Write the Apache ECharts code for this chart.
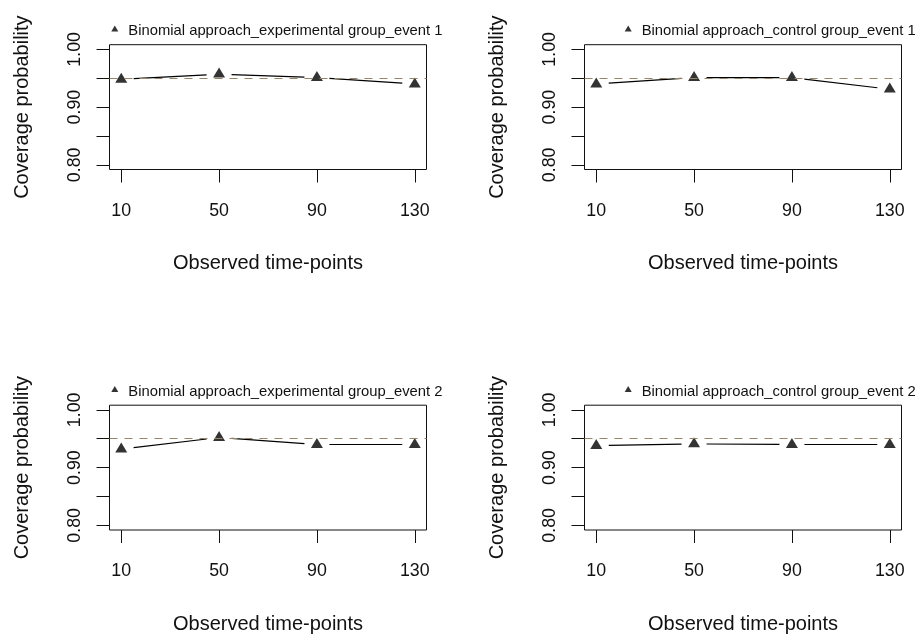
<!DOCTYPE html>
<html>
<head>
<meta charset="utf-8">
<style>
  html, body { margin: 0; padding: 0; background: #fff; }
  #chart { width: 921px; height: 635px; }
</style>
<script src="https://cdn.jsdelivr.net/npm/echarts@6/dist/echarts.min.js"></script>
</head>
<body>
<div id="chart"></div>
<script>
// ---- data ----
const timePoints = [10, 50, 90, 130];
const expEvent1 = [0.948, 0.957, 0.951, 0.940];
const ctlEvent1 = [0.940, 0.951, 0.951, 0.931];
const expEvent2 = [0.932, 0.952, 0.940, 0.940];
const ctlEvent2 = [0.938, 0.941, 0.940, 0.940];
const nominalLevel = 0.95;
const yTickValues = [0.80, 0.85, 0.90, 0.95, 1.00];
const yLabelValues = [0.80, 0.90, 1.00];
const xTickValues = [10, 50, 90, 130];
const seriesNames = [
  'Binomial approach_experimental group_event 1',
  'Binomial approach_control group_event 1',
  'Binomial approach_experimental group_event 2',
  'Binomial approach_control group_event 2'
];
const xTitle = 'Observed time-points';
const yTitle = 'Coverage probability';

// ---- layout ----
const FONT = 'Liberation Sans, Arial, sans-serif';
const INK = '#111';
const layout = [
  { left: 109.5, top: 44.7, legendLeft: 106.3 },
  { left: 584.5, top: 44.7, legendLeft: 619.7 },
  { left: 109.5, top: 405.2, legendLeft: 106.3 },
  { left: 584.5, top: 405.2, legendLeft: 619.7 }
];
const panelW = 317, panelH = 124.8;
const valuesList = [expEvent1, ctlEvent1, expEvent2, ctlEvent2];
const GAP = 12.5;

const option = {
  backgroundColor: '#fff',
  animation: false,
  grid: [], xAxis: [], yAxis: [], series: [], legend: []
};

layout.forEach((p, i) => {
  option.grid.push({
    left: p.left, top: p.top, width: panelW, height: panelH,
    show: true, borderColor: INK, borderWidth: 1, backgroundColor: 'transparent',
    containLabel: false
  });
  option.xAxis.push({
    gridIndex: i, type: 'value', min: 5.2, max: 134.8,
    name: xTitle, nameLocation: 'middle', nameGap: 84,
    nameTextStyle: { fontFamily: FONT, fontSize: 20, color: INK },
    axisLine: { show: false },
    splitLine: { show: false },
    axisTick: { show: true, length: 13, customValues: xTickValues, lineStyle: { color: INK, width: 1 } },
    axisLabel: { customValues: xTickValues, margin: 32.5, fontFamily: FONT, fontSize: 17.8, color: INK }
  });
  option.yAxis.push({
    gridIndex: i, type: 'value', min: 0.792, max: 1.008,
    name: yTitle, nameLocation: 'middle', nameGap: 77,
    nameTextStyle: { fontFamily: FONT, fontSize: 20, color: INK },
    axisLine: { show: false },
    splitLine: { show: false },
    axisTick: { show: true, length: 13, customValues: yTickValues, lineStyle: { color: INK, width: 1 } },
    axisLabel: {
      customValues: yLabelValues, rotate: 90, margin: 25.5,
      fontFamily: FONT, fontSize: 17.8, color: INK,
      formatter: v => Number(v).toFixed(2)
    }
  });
  const vals = valuesList[i];
  const segs = [];
  for (let k = 0; k < timePoints.length - 1; k++) {
    segs.push([timePoints[k], vals[k], timePoints[k + 1], vals[k + 1]]);
  }
  option.series.push({
    type: 'custom', xAxisIndex: i, yAxisIndex: i, z: 2, silent: true,
    data: segs,
    renderItem: (params, api) => {
      const p0 = api.coord([api.value(0), api.value(1)]);
      const p1 = api.coord([api.value(2), api.value(3)]);
      const dx = p1[0] - p0[0], dy = p1[1] - p0[1];
      const len = Math.hypot(dx, dy);
      const ux = dx / len, uy = dy / len;
      return {
        type: 'line',
        shape: { x1: p0[0] + ux * GAP, y1: p0[1] + uy * GAP, x2: p1[0] - ux * GAP, y2: p1[1] - uy * GAP },
        style: { stroke: '#000', lineWidth: 1.2 }
      };
    }
  });
  option.series.push({
    type: 'scatter', name: seriesNames[i], xAxisIndex: i, yAxisIndex: i, z: 3,
    data: timePoints.map((t, k) => [t, vals[k]]),
    symbol: 'triangle', symbolSize: [12, 10], symbolOffset: [0, -1.6],
    itemStyle: { color: '#000' },
    markLine: {
      silent: true, symbol: 'none', label: { show: false },
      lineStyle: { color: '#9A8468', type: [8, 7], width: 1.2 },
      data: [{ yAxis: nominalLevel }]
    }
  });
  option.legend.push({
    data: [seriesNames[i]], selectedMode: false,
    left: p.legendLeft,
    top: p.top - 26.2,
    padding: 5, itemGap: 0,
    icon: 'path://M3.5,0L7,6L0,6ZM0,11',
    itemWidth: 17, itemHeight: 11,
    textStyle: { fontFamily: FONT, fontSize: 14.8, color: INK }
  });
});

const chart = echarts.init(document.getElementById('chart'), null, { renderer: 'canvas' });
chart.setOption(option);
</script>
</body>
</html>
